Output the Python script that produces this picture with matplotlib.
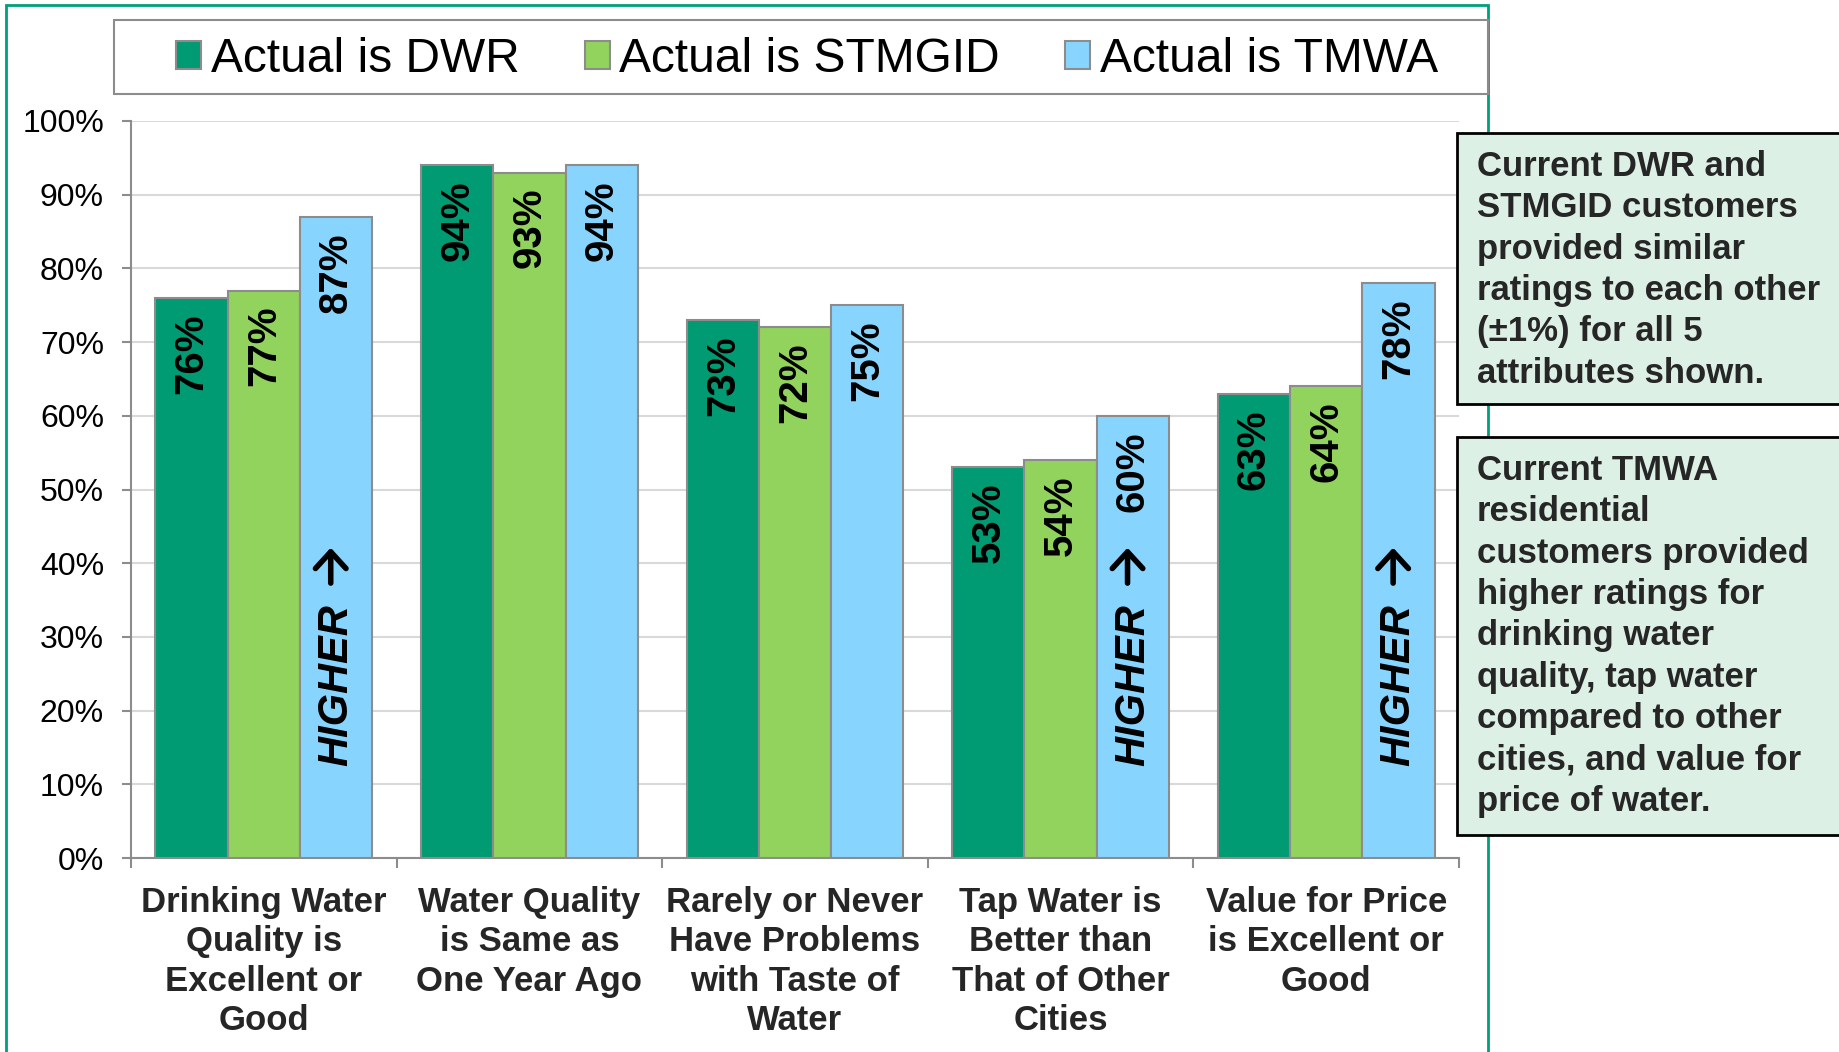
import numpy as np
import matplotlib
matplotlib.use("Agg")
import matplotlib.pyplot as plt
from matplotlib.patches import Rectangle, Patch

plt.rcParams['font.family'] = ['Liberation Sans', 'DejaVu Sans']

# data
categories = ["Drinking Water\nQuality is\nExcellent or\nGood",
              "Water Quality\nis Same as\nOne Year Ago",
              "Rarely or Never\nHave Problems\nwith Taste of\nWater",
              "Tap Water is\nBetter than\nThat of Other\nCities",
              "Value for Price\nis Excellent or\nGood"]
series_names = ["Actual is DWR", "Actual is STMGID", "Actual is TMWA"]
dwr = [76, 94, 73, 53, 63]
stmgid = [77, 93, 72, 54, 64]
tmwa = [87, 94, 75, 60, 78]
higher_idx = [0, 3, 4]
yticks = [0, 10, 20, 30, 40, 50, 60, 70, 80, 90, 100]

note1 = ("Current DWR and\nSTMGID customers\nprovided similar\n"
         "ratings to each other\n(\u00b11%) for all 5\nattributes shown.")
note2 = ("Current TMWA\nresidential\ncustomers provided\nhigher ratings for\n"
         "drinking water\nquality, tap water\ncompared to other\n"
         "cities, and value for\nprice of water.")

colors = ['#009B72', '#92D35E', '#87D5FF']
edge = '#8C8C8C'
axis_grey = '#8C8C8C'
text_dark = '#262626'

W, H = 1839, 1052
fig = plt.figure(figsize=(W / 100, H / 100), dpi=100)


def fx(x):
    return x / W


def fy(y):
    return 1 - y / H


ax = fig.add_axes([fx(131), fy(858), fx(1459) - fx(131), fy(121) - fy(858)])

x = np.arange(len(categories))
bw = 0.272
handles = []
for i, vals in enumerate([dwr, stmgid, tmwa]):
    ax.bar(x + (i - 1) * bw, np.array(vals) / 100, width=bw, color=colors[i],
           edgecolor=edge, linewidth=1.5, zorder=3)
    handles.append(Patch(facecolor=colors[i], edgecolor=edge, linewidth=1.5))
    for xi, v in zip(x + (i - 1) * bw, vals):
        ax.annotate(f"{v}%", xy=(xi, v / 100), xytext=(0, -11), textcoords='offset points',
                    rotation=90, ha='center', va='top', fontsize=29, fontweight='bold',
                    color='black', zorder=4)

# "HIGHER" callouts, arrow drawn as an open-headed arrow
for j in higher_idx:
    xc = x[j] + bw
    ax.text(xc, 0.125, "HIGHER", rotation=90, ha='center', va='bottom',
            fontsize=30, fontweight='bold', style='italic', color='black', zorder=4)
    ax.annotate("", xy=(xc - 0.02, 0.421), xytext=(xc - 0.02, 0.373),
                arrowprops=dict(arrowstyle='->,head_length=0.6,head_width=0.55',
                                lw=4, color='black', mutation_scale=20,
                                shrinkA=0, shrinkB=0), zorder=4)

ax.set_xlim(-0.5, len(categories) - 0.5)
ax.set_ylim(0, 1.0)
ax.set_yticks(np.array(yticks) / 100)
ax.set_yticklabels([f"{t}%" for t in yticks], fontsize=23, color='black')
ax.yaxis.grid(True, color='#D9D9D9', linewidth=1.5, zorder=0)
ax.set_axisbelow(True)

ax.set_xticks(np.arange(-0.5, len(categories), 1.0))
ax.set_xticklabels([])
ax.set_xticks(x, minor=True)
ax.set_xticklabels(categories, minor=True, fontsize=25, fontweight='bold',
                   color=text_dark, linespacing=1.25)
ax.tick_params(axis='x', which='major', direction='out', length=7, width=1.5, color=axis_grey)
ax.tick_params(axis='x', which='minor', length=0, pad=20)
ax.tick_params(axis='y', direction='out', length=6.5, width=1.5, color=axis_grey, pad=13)

for s in ['top', 'right']:
    ax.spines[s].set_visible(False)
for s in ['left', 'bottom']:
    ax.spines[s].set_color(axis_grey)
    ax.spines[s].set_linewidth(1.5)

# outer green border
fig.patches.append(Rectangle((fx(6), fy(1070)), fx(1488) - fx(6), fy(5) - fy(1070),
                             transform=fig.transFigure, fill=False,
                             edgecolor='#00A07A', linewidth=2, zorder=0))

# legend box
fig.patches.append(Rectangle((fx(114), fy(94)), fx(1488) - fx(114), fy(20) - fy(94),
                             transform=fig.transFigure, facecolor='white',
                             edgecolor=axis_grey, linewidth=1.5, zorder=1))
fig.legend(handles, series_names, loc='center', bbox_to_anchor=(fx(807), fy(59.5)),
           ncol=3, frameon=False, fontsize=34.5, handlelength=0.53, handleheight=0.53,
           handletextpad=0.2, columnspacing=1.35, borderpad=0)

# note boxes
for top, bottom, txt_top, txt in [(133, 404, 150, note1), (437, 835, 454, note2)]:
    fig.patches.append(Rectangle((fx(1457), fy(bottom)), fx(1860) - fx(1457), fy(top) - fy(bottom),
                                 transform=fig.transFigure, facecolor='#DDF0E6',
                                 edgecolor='black', linewidth=2, zorder=2))
    fig.text(fx(1477), fy(txt_top), txt, ha='left', va='top', fontsize=25,
             fontweight='bold', color=text_dark, linespacing=1.32, zorder=3)

fig.savefig("out.png", dpi=100)
